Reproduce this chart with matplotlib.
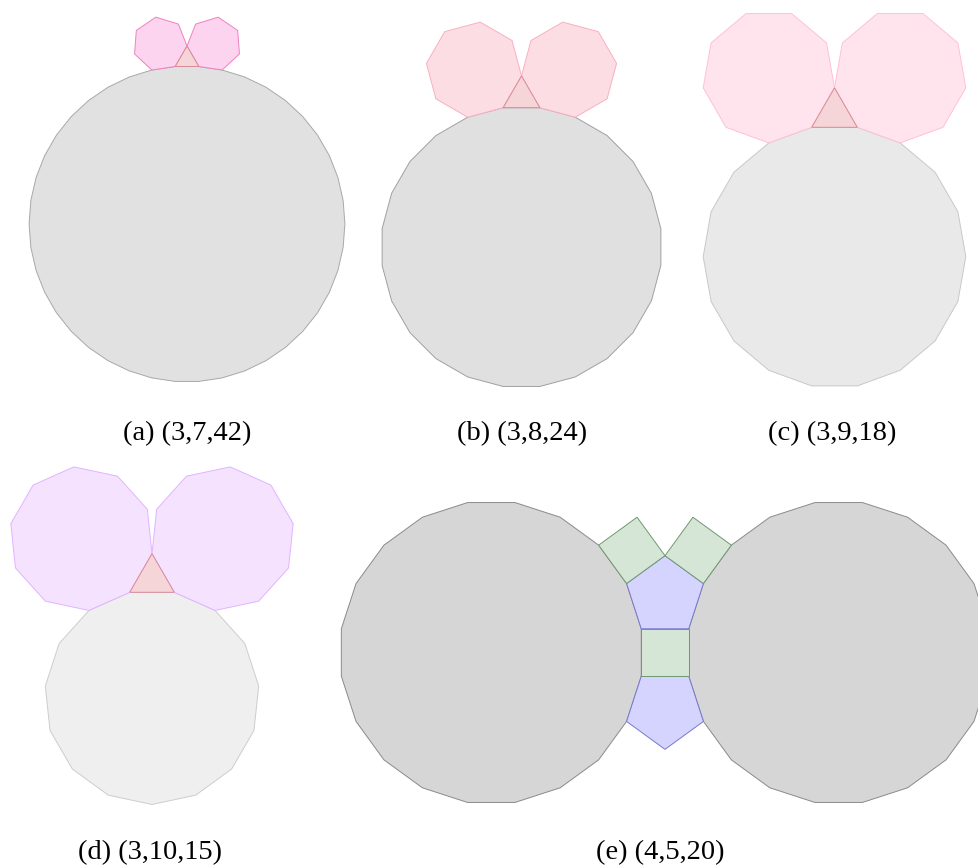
import numpy as np
import matplotlib
matplotlib.use('Agg')
import matplotlib.pyplot as plt
from matplotlib.patches import Polygon

# vertex configurations shown in each panel
labels = ['(a) (3,7,42)', '(b) (3,8,24)', '(c) (3,9,18)', '(d) (3,10,15)', '(e) (4,5,20)']
side_ngons = [7, 8, 9, 10]      # polygons on the two upper triangle edges
big_ngons = [42, 24, 18, 15]    # polygon under the triangle
e_center, e_mid, e_big = 4, 5, 20

# fill / edge colours per panel
side_fill = ['#fdd4f0', '#fddde4', '#ffe4ee', '#f5e2ff']
side_edge = ['#f080c0', '#f8b0c0', '#ffc0d4', '#e0b4ff']
big_fill = ['#e1e1e1', '#e0e0e0', '#e9e9e9', '#efefef']
big_edge = ['#a8a8a8', '#a0a0a0', '#c8c8c8', '#cdcdcd']
tri_fill, tri_edge = '#f6d5d8', '#d88a98'

# layout: pixel origin and pixel length of one edge
origins = [(187, 66.5), (521.5, 107.7), (834.5, 127.3), (152, 592.3), (665, 652.5)]
scales = [23.6, 36.7, 45.6, 44.6, 47.5]
label_pos = [(187.5, 434), (522, 434), (832, 434), (150, 853), (660, 853)]


def poly_on_edge(p0, p1, n):
    # regular n-gon with edge p0->p1, built on the left of that edge
    pts = [np.array(p0, float), np.array(p1, float)]
    d = pts[1] - pts[0]
    ang = np.arctan2(d[1], d[0])
    for _ in range(n - 2):
        ang += 2 * np.pi / n
        pts.append(pts[-1] + np.array([np.cos(ang), np.sin(ang)]))
    return np.array(pts)


def to_px(pts, origin, s):
    out = np.empty_like(pts)
    out[:, 0] = origin[0] + s * pts[:, 0]
    out[:, 1] = origin[1] - s * pts[:, 1]
    return out


fig = plt.figure(figsize=(9.79, 8.66), dpi=100)
ax = fig.add_axes([0, 0, 1, 1])
ax.set_xlim(0, 979)
ax.set_ylim(866, 0)
ax.axis('off')


def draw(pts, i, fc, ec, z):
    ax.add_patch(Polygon(to_px(pts, origins[i], scales[i]), closed=True,
                         facecolor=fc, edgecolor=ec, linewidth=0.7, zorder=z))


# panels (a)-(d): triangle + two side polygons + big polygon below
for i in range(4):
    A = np.array([-0.5, 0.0])
    B = np.array([0.5, 0.0])
    C = np.array([0.0, np.sqrt(3) / 2])
    draw(poly_on_edge(B, A, big_ngons[i]), i, big_fill[i], big_edge[i], 1)
    draw(poly_on_edge(A, C, side_ngons[i]), i, side_fill[i], side_edge[i], 2)
    draw(poly_on_edge(C, B, side_ngons[i]), i, side_fill[i], side_edge[i], 2)
    draw(np.array([A, B, C]), i, tri_fill, tri_edge, 3)

# panel (e): central square, pentagons above/below, 20-gons left/right
bl, br = np.array([-0.5, -0.5]), np.array([0.5, -0.5])
tr, tl = np.array([0.5, 0.5]), np.array([-0.5, 0.5])
sq_fill, sq_edge = '#d6e6d6', '#6e9a6e'
pe_fill, pe_edge = '#d4d4ff', '#7878d0'
g_fill, g_edge = '#d6d6d6', '#8a8a8a'

draw(poly_on_edge(bl, tl, e_big), 4, g_fill, g_edge, 1)
draw(poly_on_edge(tr, br, e_big), 4, g_fill, g_edge, 1)
top = poly_on_edge(tl, tr, e_mid)
draw(top, 4, pe_fill, pe_edge, 2)
draw(poly_on_edge(br, bl, e_mid), 4, pe_fill, pe_edge, 2)
R, apex, L = top[2], top[3], top[4]
draw(poly_on_edge(L, apex, e_center), 4, sq_fill, sq_edge, 3)
draw(poly_on_edge(apex, R, e_center), 4, sq_fill, sq_edge, 3)
draw(np.array([bl, br, tr, tl]), 4, sq_fill, sq_edge, 3)

for (x, y), lab in zip(label_pos, labels):
    ax.text(x, y, lab, ha='center', va='center', fontsize=20.5,
            family='Liberation Serif', color='black')

fig.savefig('out.png', dpi=100)
